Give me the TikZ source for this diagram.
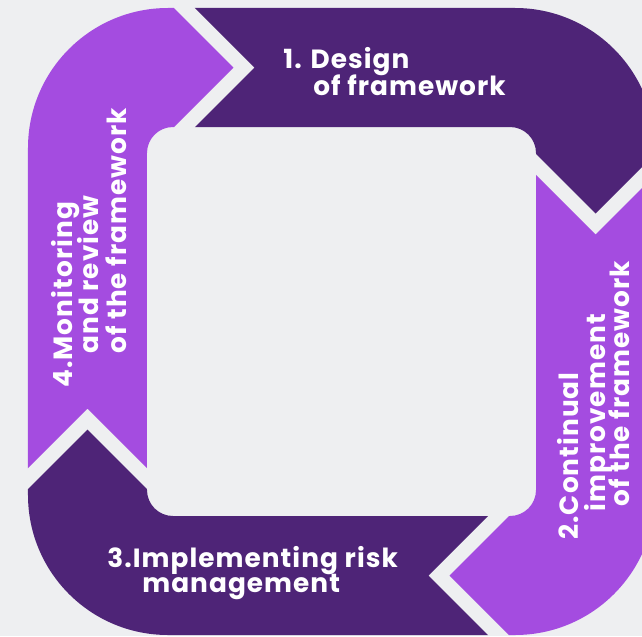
\documentclass[tikz,border=0pt]{standalone}
\usepackage{fontspec}
\newfontfamily\cyclefont[LetterSpace=4]{Poppins}
\definecolor{ringdark}{RGB}{78, 36, 119}
\definecolor{ringlight}{RGB}{164, 76, 224}
\definecolor{paper}{RGB}{238, 239, 241}
\tikzset{
  ring/.style={even odd rule},
  steptext/.style={
    text=white, inner sep=0, anchor=base west,
    font=\cyclefont\bfseries\fontsize{15pt}{18pt}\selectfont
  }
}

\begin{document}
\begin{tikzpicture}[x=0.02cm, y=0.02cm]
  \fill[paper] (-341.5,-314.5) rectangle (300.5,321.5);
  \useasboundingbox (-341.5,-314.5) rectangle (300.5,321.5);

  % one chevron band, turned a quarter for each step
  \foreach \ang/\col in {0/ringdark, -90/ringlight, -180/ringdark, -270/ringlight} {
    \begin{scope}[rotate=\ang]
      \clip (-166.5,333.5) -- (-87,254) -- (-166.5,174.5) -- (174.5,187.5)
        -- (254,108) -- (333.5,187.5) -- (333.5,333.5) -- cycle;
      \fill[\col, ring] [rounded corners=2.8cm] (-313.5,-313.5) rectangle (313.5,313.5)
        [rounded corners=0.52cm] (-194.5,-194.5) rectangle (194.5,194.5);
    \end{scope}
  }

  \node[steptext] (design) at (-58.5,253.5) {1. Design};
  \node[steptext] (designb) at (-28.5,226.5) {of framework};

  \node[steptext, rotate=90] (improve) at (236.5,-218.5) {2.Continual};
  \node[steptext, rotate=90] (improveb) at (263.5,-190.5) {improvement};
  \node[steptext, rotate=90] (improvec) at (287.5,-185.5) {of the framework};

  \node[steptext] (implement) at (-234.5,-245.5) {3.Implementing risk};
  \node[steptext] (implementb) at (-199.5,-270.5) {management};

  \node[steptext, rotate=90] (monitor) at (-268.5,-66.5) {4.Monitoring};
  \node[steptext, rotate=90] (monitorb) at (-243,-32.5) {and review};
  \node[steptext, rotate=90] (monitorc) at (-214.5,-32.5) {of the framework};
\end{tikzpicture}
\end{document}
